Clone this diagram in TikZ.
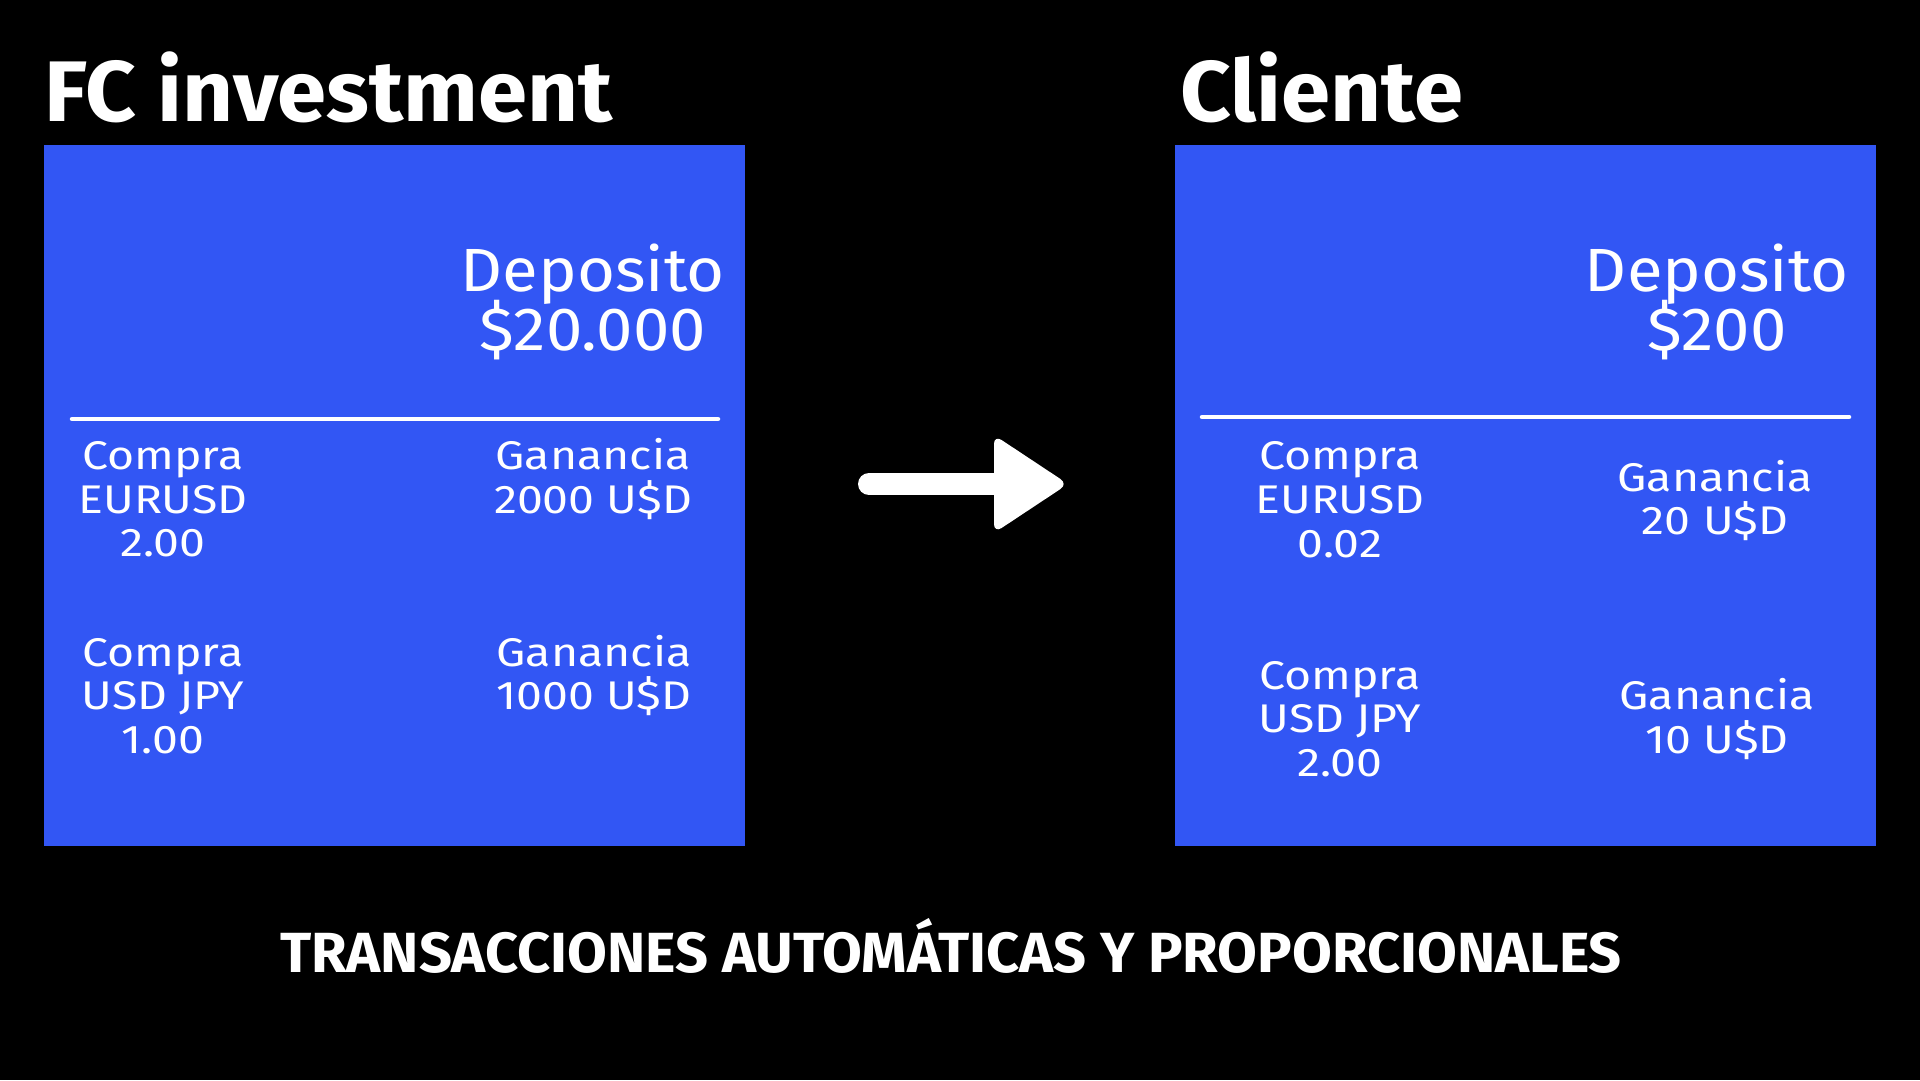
\documentclass[tikz,border=0pt]{standalone}
\usepackage{fontspec}
\setmainfont{Fira Sans}
\newfontfamily\bodyfont{Fira Sans}[FakeStretch=1.16]
\newfontfamily\bigfont{Fira Sans}[FakeStretch=1.07]
\newfontfamily\titlefont{Fira Sans}[FakeStretch=1.03]
\newfontfamily\footfont{Fira Sans}[FakeStretch=1.02]
\definecolor{boxblue}{HTML}{3256F4}
\tikzset{
  panel/.style={fill=boxblue, draw=none, inner sep=0pt, anchor=north west},
  body/.style={text=white, inner sep=0pt, anchor=base, font=\bodyfont\fontsize{40}{44}\selectfont},
  big/.style={text=white, inner sep=0pt, anchor=base, font=\bigfont\fontsize{61}{66}\selectfont},
  title/.style={text=white, inner sep=0pt, anchor=base west, font=\titlefont\fontsize{86}{90}\selectfont\bfseries},
  foot/.style={text=white, inner sep=0pt, anchor=base, font=\footfont\fontsize{56.6}{60}\selectfont\bfseries},
  divider/.style={white, line width=4.5pt, line cap=round}
}
\begin{document}
\begin{tikzpicture}[x=1pt,y=-1pt]
\fill[black] (0,0) rectangle (1920,1080);
\useasboundingbox (0,0) rectangle (1920,1080);

% panels
\node[panel, minimum width=701pt, minimum height=701pt] (lbox) at (44,145) {};
\node[panel, minimum width=701pt, minimum height=701pt] (rbox) at (1175,145) {};

% titles
\node[title] (ltitle) at (44,121) {FC investment};
\node[title] (rtitle) at (1180,121) {Cliente};

% left panel
\node[big] (ldep1) at (593,291) {Deposito};
\node[big] (ldep2) at (593,350) {\$20.000};
\coordinate (ldivA) at (72,419);
\coordinate (ldivB) at (718,419);
\draw[divider] (ldivA) -- (ldivB);
\node[body] (lc1a) at (163,469) {Compra};
\node[body] (lc1b) at (163,513) {EURUSD};
\node[body] (lc1c) at (163,556) {2.00};
\node[body] (lg1a) at (593,469) {Ganancia};
\node[body] (lg1b) at (593,513) {2000 U\$D};
\node[body] (lc2a) at (163,666) {Compra};
\node[body] (lc2b) at (163,709) {USD JPY};
\node[body] (lc2c) at (163,753) {1.00};
\node[body] (lg2a) at (594,666) {Ganancia};
\node[body] (lg2b) at (594,709) {1000 U\$D};

% right panel
\node[big] (rdep1) at (1717,291) {Deposito};
\node[big] (rdep2) at (1717,350) {\$200};
\coordinate (rdivA) at (1202,417);
\coordinate (rdivB) at (1849,417);
\draw[divider] (rdivA) -- (rdivB);
\node[body] (rc1a) at (1340,469) {Compra};
\node[body] (rc1b) at (1340,513) {EURUSD};
\node[body] (rc1c) at (1340,557) {0.02};
\node[body] (rg1a) at (1715,491) {Ganancia};
\node[body] (rg1b) at (1715,534) {20 U\$D};
\node[body] (rc2a) at (1340,689) {Compra};
\node[body] (rc2b) at (1340,732) {USD JPY};
\node[body] (rc2c) at (1340,776) {2.00};
\node[body] (rg2a) at (1717,709) {Ganancia};
\node[body] (rg2b) at (1717,753) {10 U\$D};

% arrow
\coordinate (arrS) at (869,484);
\coordinate (arrM) at (1000,484);
\coordinate (arrT) at (1068,484);
\draw[white, line width=22pt, line cap=round] (arrS) -- (arrM);
\fill[white, rounded corners=9pt] (994,435) -- (arrT) -- (994,533) -- cycle;

% footer
\node[foot] (foot) at (951,972) {TRANSACCIONES AUTOMÁTICAS Y PROPORCIONALES};
\end{tikzpicture}
\end{document}
